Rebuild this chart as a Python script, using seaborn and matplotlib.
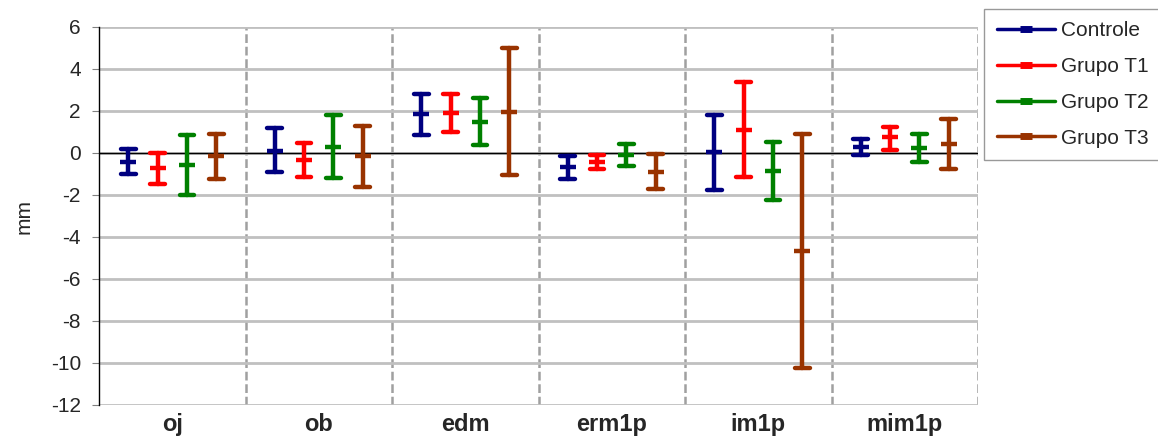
import numpy as np
import pandas as pd
import matplotlib
matplotlib.use('Agg')
import matplotlib.pyplot as plt
from matplotlib.lines import Line2D
import seaborn as sns

# values (mean, lower end, upper end of each bar)
categories = ['oj', 'ob', 'edm', 'erm1p', 'im1p', 'mim1p']
groups = ['Controle', 'Grupo T1', 'Grupo T2', 'Grupo T3']
colors = ['#000080', '#FF0000', '#008000', '#993300']

controle_mean = [-0.41, 0.11, 1.84, -0.67, 0.03, 0.30]
controle_low = [-0.98, -0.92, 0.87, -1.26, -1.75, -0.08]
controle_high = [0.20, 1.17, 2.81, -0.13, 1.82, 0.67]

t1_mean = [-0.73, -0.33, 1.90, -0.43, 1.11, 0.74]
t1_low = [-1.46, -1.16, 1.00, -0.76, -1.16, 0.16]
t1_high = [0.00, 0.48, 2.79, -0.10, 3.40, 1.25]

t2_mean = [-0.56, 0.30, 1.48, -0.10, -0.84, 0.25]
t2_low = [-2.00, -1.19, 0.36, -0.60, -2.22, -0.41]
t2_high = [0.86, 1.79, 2.60, 0.41, 0.54, 0.90]

t3_mean = [-0.16, -0.14, 1.95, -0.89, -4.68, 0.43]
t3_low = [-1.24, -1.60, -1.07, -1.71, -10.26, -0.75]
t3_high = [0.90, 1.30, 4.98, -0.05, 0.92, 1.63]

series = {
    'Controle': (controle_low, controle_mean, controle_high),
    'Grupo T1': (t1_low, t1_mean, t1_high),
    'Grupo T2': (t2_low, t2_mean, t2_high),
    'Grupo T3': (t3_low, t3_mean, t3_high),
}

# long form: three rows per bar; median = mean, min/max = bar ends
rows = []
for g, (lo, mu, hi) in series.items():
    for i, c in enumerate(categories):
        for v in (lo[i], mu[i], hi[i]):
            rows.append({'cat': c, 'grupo': g, 'val': v})
df = pd.DataFrame(rows)

sns.set_style('white')
plt.rcParams['font.family'] = ['Liberation Sans', 'DejaVu Sans']
plt.rcParams['axes.unicode_minus'] = False

fig = plt.figure(figsize=(11.58, 4.45), dpi=100)
ax = fig.add_axes([99 / 1158, 1 - 405 / 445, (978 - 99) / 1158, (405 - 27) / 445])

sns.pointplot(data=df, x='cat', y='val', hue='grupo', order=categories,
              hue_order=groups, palette=colors, estimator='median',
              errorbar=lambda v: (v.min(), v.max()), dodge=0.6,
              linestyle='none', markers='_', markersize=11,
              markeredgewidth=3.2, capsize=0.1, err_kws={'linewidth': 3.2},
              legend=False, ax=ax)

ax.set_ylim(-12, 6)
ax.set_xlim(-0.5, 5.5)
ax.set_yticks(range(-12, 7, 2))
ax.yaxis.grid(True, color='#c0c0c0', linewidth=2)
ax.set_axisbelow(True)
for x in np.arange(0.5, 6, 1):
    ax.axvline(x, color='#a0a0a0', linestyle=(0, (3.5, 1.5)), linewidth=1.8, zorder=0)
ax.axhline(0, color='black', linewidth=1, zorder=1)

for s in ['top', 'right', 'bottom']:
    ax.spines[s].set_visible(False)
ax.spines['left'].set_color('black')
ax.spines['left'].set_linewidth(1)

ax.tick_params(axis='y', length=5, color='#808080', labelsize=15, pad=8, left=True)
ax.tick_params(axis='x', length=0, pad=6)
for lab in ax.get_xticklabels():
    lab.set_fontsize(17)
    lab.set_fontweight('bold')
ax.set_xlabel('')
ax.set_ylabel('mm', fontsize=15, labelpad=12)

handles = [Line2D([], [], color=c, lw=2.5, marker='_', markersize=8,
                  markeredgewidth=5) for c in colors]
leg = fig.legend(handles, groups, loc='upper left',
                 bbox_to_anchor=(984 / 1158, 1 - 9 / 445), frameon=True,
                 fancybox=False, edgecolor='#808080', fontsize=15,
                 handlelength=2.8, handletextpad=0.3, labelspacing=0.8,
                 borderpad=0.6, borderaxespad=0)
leg.get_frame().set_linewidth(1)

fig.savefig('out.png', dpi=100)
